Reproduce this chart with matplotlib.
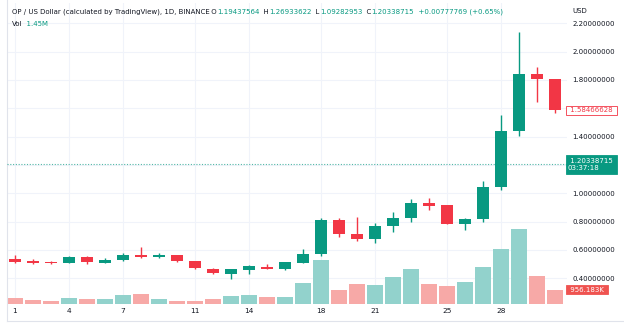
import matplotlib
matplotlib.use("Agg")
import matplotlib.pyplot as plt
from matplotlib.transforms import blended_transform_factory, offset_copy
import numpy as np

# ---- data ----
days = list(range(1, 32))
opens  = [0.536, 0.522, 0.515, 0.506, 0.550, 0.508, 0.527, 0.567, 0.550, 0.564,
          0.522, 0.468, 0.432, 0.459, 0.482, 0.468, 0.508, 0.569, 0.809, 0.715,
          0.675, 0.767, 0.823, 0.931, 0.915, 0.781, 0.816, 1.042, 1.442, 1.842, 1.804]
highs  = [0.564, 0.534, 0.524, 0.560, 0.560, 0.543, 0.581, 0.619, 0.576, 0.565,
          0.523, 0.475, 0.466, 0.496, 0.503, 0.515, 0.607, 0.828, 0.828, 0.835,
          0.788, 0.868, 0.958, 0.967, 0.917, 0.826, 1.085, 1.552, 2.138, 1.889, 1.806]
lows   = [0.506, 0.499, 0.501, 0.505, 0.501, 0.505, 0.525, 0.543, 0.545, 0.515,
          0.464, 0.432, 0.397, 0.432, 0.464, 0.461, 0.506, 0.555, 0.694, 0.665,
          0.647, 0.727, 0.800, 0.882, 0.781, 0.741, 0.797, 1.023, 1.404, 1.644, 1.569]
closes = [0.513, 0.510, 0.506, 0.548, 0.513, 0.529, 0.567, 0.548, 0.567, 0.520,
          0.471, 0.437, 0.464, 0.485, 0.468, 0.513, 0.571, 0.809, 0.713, 0.675,
          0.769, 0.826, 0.931, 0.910, 0.783, 0.819, 1.042, 1.442, 1.842, 1.806, 1.58466628]
volumes = [0.40, 0.25, 0.18, 0.38, 0.33, 0.33, 0.60, 0.65, 0.33, 0.23,
           0.23, 0.31, 0.52, 0.60, 0.45, 0.45, 1.38, 2.92, 0.92, 1.36,
           1.25, 1.83, 2.34, 1.32, 1.18, 1.45, 2.50, 3.70, 5.00, 1.85, 0.956183]  # millions

xtick_days = [1, 4, 7, 11, 14, 18, 21, 25, 28]
price_ticks = [0.4, 0.6, 0.8, 1.0, 1.4, 1.8, 2.0, 2.2]
grid_prices = [0.4, 0.6, 0.8, 1.0, 1.2, 1.4, 1.6, 1.8, 2.0, 2.2]
current_price = 1.20338715
countdown = "03:37:18"
last_close_label = "1.58466628"
last_vol_label = "956.183K"

UP = "#089981"
DOWN = "#f23645"
UP_VOL = "#92d2cc"
DOWN_VOL = "#f7a9a7"
TXT = "#131722"
GRID = "#f0f3fa"

plt.rcParams['font.family'] = ['DejaVu Sans']

W, H = 624, 324
fig = plt.figure(figsize=(W / 100, H / 100), dpi=100)

def px_axes(x0, y0, x1, y1):
    return [x0 / W, 1 - y1 / H, (x1 - x0) / W, (y1 - y0) / H]

rect = px_axes(7, 3, 567, 304)
ax_vol = fig.add_axes(rect)
ax = fig.add_axes(rect, sharex=ax_vol)
ax.set_zorder(2)
ax.patch.set_visible(False)

ax.set_xlim(0.556, 31.667)
ax.set_ylim(0.2186, 2.343)
ax_vol.set_ylim(0, 20.14)

# grid (drawn on the bottom axes, positioned in price units)
gtrans = blended_transform_factory(ax_vol.transAxes, ax.transData)
for p in grid_prices:
    ax_vol.plot([0, 1], [p, p], transform=gtrans, color=GRID, linewidth=0.8, zorder=0)
for d in xtick_days:
    ax_vol.axvline(d, color=GRID, linewidth=0.8, zorder=0)

# volume
vcols = [UP_VOL if c >= o else DOWN_VOL for o, c in zip(opens, closes)]
ax_vol.bar(days, volumes, width=0.93, color=vcols, linewidth=0, zorder=2)
ax_vol.set_yticks([])
for s in ax_vol.spines.values():
    s.set_visible(False)

# candles
ccols = [UP if c >= o else DOWN for o, c in zip(opens, closes)]
ax.vlines(days, lows, highs, colors=ccols, linewidth=1.0, zorder=3)
bottoms = [min(o, c) for o, c in zip(opens, closes)]
heights = [max(abs(c - o), 0.004) for o, c in zip(opens, closes)]
ax.bar(days, heights, bottom=bottoms, width=0.72, color=ccols, linewidth=0, zorder=4)

ax_vol.set_xticks(xtick_days)
ax_vol.tick_params(axis='x', length=0, pad=3, labelsize=5.3, labelcolor=TXT)
ax.tick_params(axis='x', which='both', length=0, labelbottom=False)

ax.yaxis.tick_right()
ax.set_yticks(price_ticks)
ax.set_yticklabels([f"{p:.8f}" for p in price_ticks])
ax.tick_params(axis='y', length=0, pad=4, labelsize=5.0, labelcolor=TXT)
for s in ax.spines.values():
    s.set_visible(False)

# current price dotted line
ax.axhline(current_price, color=UP, linewidth=0.8, linestyle=(0, (1, 1.5)), alpha=0.7, zorder=1)

trans = blended_transform_factory(ax.transAxes, ax.transData)
ax.text(1.0, closes[-1], " " + last_close_label + " ", transform=offset_copy(trans, fig=fig, x=1, y=0, units='dots'),
        ha='left', va='center', fontsize=5.0, color=DOWN, clip_on=False,
        bbox=dict(boxstyle='square,pad=0.25', fc='white', ec=DOWN, lw=0.6))
ax.text(1.0, current_price, " " + f"{current_price:.8f}" + " \n" + countdown, transform=offset_copy(trans, fig=fig, x=1, y=0, units='dots'),
        ha='left', va='center', fontsize=5.0, color='white', clip_on=False, linespacing=1.3,
        bbox=dict(boxstyle='square,pad=0.35', fc=UP, ec=UP, lw=0.6))
vtrans = blended_transform_factory(ax_vol.transAxes, ax_vol.transData)
ax_vol.text(1.0, volumes[-1], " " + last_vol_label + " ", transform=offset_copy(vtrans, fig=fig, x=1, y=0, units='dots'),
            ha='left', va='center', fontsize=5.0, color='white', clip_on=False, zorder=10,
            bbox=dict(boxstyle='square,pad=0.25', fc="#ef5350", ec="#ef5350", lw=0.6))

fig.text(572 / W, 1 - 11 / H, "USD", ha='left', va='center', fontsize=5.0, color=TXT)

# borders
fig.add_artist(plt.Line2D([6.5 / W, 6.5 / W], [1 - 321 / H, 1], color="#e0e3eb", lw=0.8))
fig.add_artist(plt.Line2D([6.5 / W, 1], [1 - 321 / H, 1 - 321 / H], color="#e0e3eb", lw=0.8))

# header legend
renderer = fig.canvas.get_renderer()
pieces = [("OP / US Dollar (calculated by TradingView), 1D, BINANCE", TXT), (" O", TXT), ("1.19437564", UP),
          ("  H", TXT), ("1.26933622", UP), ("  L", TXT), ("1.09282953", UP), ("  C", TXT), ("1.20338715", UP),
          ("  +0.00777769 (+0.65%)", UP)]
x = 11.5
for s, c in pieces:
    t = fig.text(x / W, 1 - 12 / H, s, ha='left', va='center', fontsize=5.0, color=c)
    x += t.get_window_extent(renderer).width
x = 11.5
for s, c in [("Vol", TXT), ("  1.45M", UP)]:
    t = fig.text(x / W, 1 - 24 / H, s, ha='left', va='center', fontsize=5.0, color=c)
    x += t.get_window_extent(renderer).width

fig.savefig("out.png", dpi=100, facecolor='white')
